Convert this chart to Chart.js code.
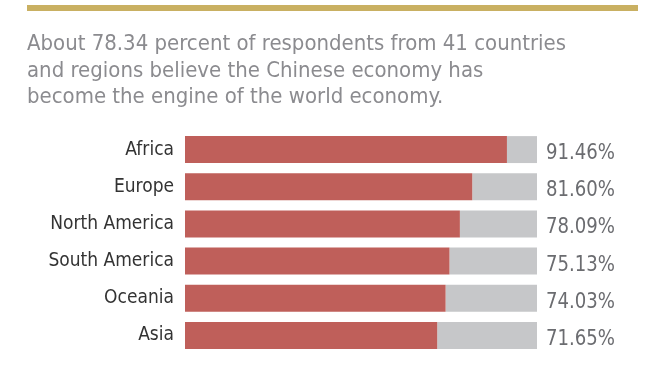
<!DOCTYPE html>
<html>
<head>
<meta charset="utf-8">
<script src="https://cdn.jsdelivr.net/npm/chart.js@4/dist/chart.umd.min.js"></script>
<style>
  html, body { margin: 0; padding: 0; background: #ffffff; }
  #wrap { position: relative; width: 670px; height: 379px; }
</style>
</head>
<body>
<div id="wrap"><canvas id="c" width="670" height="379"></canvas></div>
<script>
const titleLines = [
  "About 78.34 percent of respondents from 41 countries",
  "and regions believe the Chinese economy has",
  "become the engine of the world economy."
];
const regions = ["Africa", "Europe", "North America", "South America", "Oceania", "Asia"];
const shares = [91.46, 81.60, 78.09, 75.13, 74.03, 71.65];
const total = 100;

const RED = "#bf5f5a";
const GREY = "#c6c7c9";
const GOLD = "#c9b062";
const TITLE_FONT = "'DejaVu Sans Condensed', 'DejaVu Sans', sans-serif";
const LABEL_FONT = "'DejaVu Sans Condensed', 'DejaVu Sans', sans-serif";

const remainder = shares.map(v => +(total - v).toFixed(2));

// draw text condensed horizontally so that a reference string spans a given width
function drawFitted(ctx, text, x, y, sx) {
  ctx.save();
  ctx.translate(x, y);
  ctx.scale(sx, 1);
  ctx.fillText(text, 0, 0);
  ctx.restore();
}

const headerPlugin = {
  id: 'header',
  beforeDraw(chart) {
    const ctx = chart.ctx;
    ctx.save();
    ctx.fillStyle = '#ffffff';
    ctx.fillRect(0, 0, chart.width, chart.height);
    ctx.fillStyle = GOLD;
    ctx.fillRect(27, 5, 611, 6);
    ctx.font = "22px " + TITLE_FONT;
    const sx = 539 / ctx.measureText(titleLines[0]).width;
    ctx.fillStyle = "#8b8b8f";
    ctx.textAlign = 'left';
    ctx.textBaseline = 'alphabetic';
    const baselines = [50, 76.5, 103];
    titleLines.forEach((t, i) => drawFitted(ctx, t, 27, baselines[i], sx));
    ctx.restore();
  }
};

const valueLabelPlugin = {
  id: 'valueLabels',
  afterDatasetsDraw(chart) {
    const ctx = chart.ctx;
    const xs = chart.scales.x;
    const meta = chart.getDatasetMeta(1);
    ctx.save();
    ctx.font = "22px " + TITLE_FONT;
    const sx = 69 / ctx.measureText("91.46%").width;
    ctx.fillStyle = "#6b6c70";
    ctx.textAlign = 'left';
    ctx.textBaseline = 'alphabetic';
    const cap = ctx.measureText("9").actualBoundingBoxAscent;
    const x0 = xs.getPixelForValue(total) + 9;
    meta.data.forEach((bar, i) => {
      drawFitted(ctx, shares[i].toFixed(2) + "%", x0, bar.y + cap / 2 + 1.5, sx);
    });
    ctx.restore();
  }
};

new Chart(document.getElementById('c'), {
  type: 'bar',
  data: {
    labels: regions,
    datasets: [
      { data: shares, backgroundColor: RED, borderWidth: 0, categoryPercentage: 1, barPercentage: 0.725 },
      { data: remainder, backgroundColor: GREY, borderWidth: 0, categoryPercentage: 1, barPercentage: 0.725 }
    ]
  },
  options: {
    indexAxis: 'y',
    responsive: false,
    animation: false,
    devicePixelRatio: 1,
    layout: { padding: { top: 131, bottom: 25, left: 0, right: 133 } },
    plugins: {
      legend: { display: false },
      tooltip: { enabled: false },
      title: { display: false }
    },
    scales: {
      x: { stacked: true, min: 0, max: total, display: false },
      y: {
        stacked: true,
        grid: { display: false, drawTicks: false },
        border: { display: false },
        ticks: {
          padding: 11,
          color: "#333333",
          font: { family: LABEL_FONT, size: 19 }
        },
        afterFit(scale) { scale.width = 185; }
      }
    }
  },
  plugins: [headerPlugin, valueLabelPlugin]
});
</script>
</body>
</html>
